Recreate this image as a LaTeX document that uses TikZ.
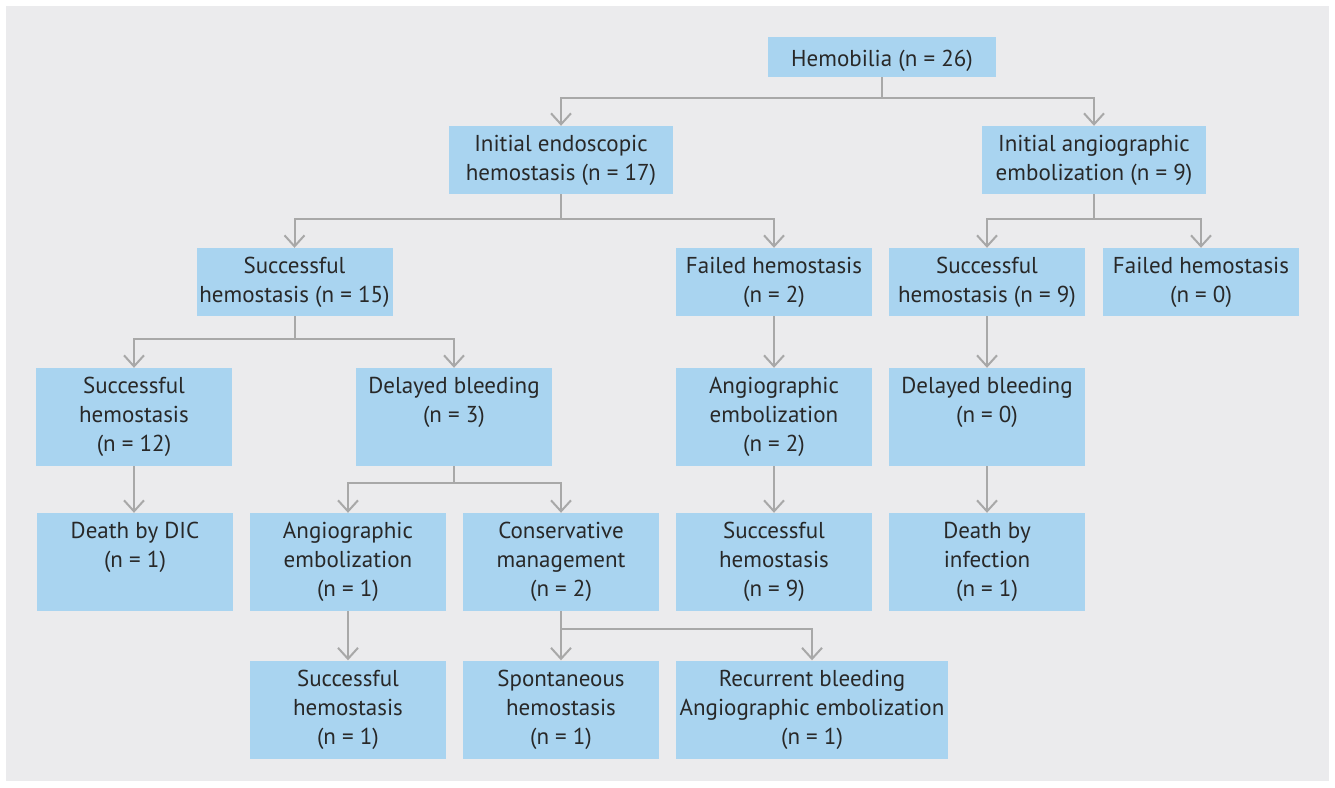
\documentclass[tikz,border=0pt]{standalone}
\usepackage{fontspec}
\setmainfont{PT Sans}
\usetikzlibrary{arrows.meta}
\definecolor{bgc}{RGB}{235,235,237}
\definecolor{boxc}{RGB}{169,212,240}
\definecolor{linec}{RGB}{168,168,168}
\definecolor{txtc}{RGB}{40,40,40}
\tikzset{
  box/.style={fill=boxc, text=txtc, align=center, inner sep=0pt, anchor=center,
    font=\fontsize{23pt}{29pt}\selectfont, minimum width=196pt, minimum height=98pt,
    execute at begin node={\rule{0pt}{24pt}}},
  boxA/.style={box, minimum width=228pt, minimum height=40pt},
  boxB/.style={box, minimum width=224pt, minimum height=68pt},
  boxC/.style={box, minimum height=68pt},
  line/.style={draw=linec, line width=2pt},
  conn/.style={line, -{Straight Barb[length=11pt,width=20pt,line width=2pt]}}
}
\begin{document}
\begin{tikzpicture}[x=1pt,y=-1pt]
\useasboundingbox (0,0) rectangle (1335,787);
\fill[white] (0,0) rectangle (1335,787);
\fill[bgc] (6,6) rectangle (1329,781);
% row 0
\node[boxA] (hemo) at (882,57) {Hemobilia (n = 26)};
% row 1
\node[boxB] (endo) at (561,160) {Initial endoscopic\\hemostasis (n = 17)};
\node[boxB] (angio) at (1094,160) {Initial angiographic\\embolization (n = 9)};
% row 2
\node[boxC] (s15) at (294.5,282) {Successful\\hemostasis (n = 15)};
\node[boxC] (f2) at (774,282) {Failed hemostasis\\(n = 2)};
\node[boxC] (s9) at (987,282) {Successful\\hemostasis (n = 9)};
\node[boxC] (f0) at (1201,282) {Failed hemostasis\\(n = 0)};
% row 3
\node[box] (s12) at (134,417) {Successful\\hemostasis\\(n = 12)};
\node[box] (d3) at (454,417) {Delayed bleeding\\(n = 3)\\\phantom{(n)}};
\node[box] (ae2) at (774,417) {Angiographic\\embolization\\(n = 2)};
\node[box] (d0) at (987,417) {Delayed bleeding\\(n = 0)\\\phantom{(n)}};
% row 4
\node[box] (dic) at (135,562) {Death by DIC\\(n = 1)\\\phantom{(n)}};
\node[box] (ae1) at (348,562) {Angiographic\\embolization\\(n = 1)};
\node[box] (cm) at (561,562) {Conservative\\management\\(n = 2)};
\node[box] (sh9) at (774,562) {Successful\\hemostasis\\(n = 9)};
\node[box] (inf) at (987,562) {Death by\\infection\\(n = 1)};
% row 5
\node[box] (s1) at (348,709.5) {Successful\\hemostasis\\(n = 1)};
\node[box] (sp) at (561,709.5) {Spontaneous\\hemostasis\\(n = 1)};
\node[box, minimum width=272pt] (rb) at (812,709.5) {Recurrent bleeding\\Angiographic embolization\\(n = 1)};
% connectors
\coordinate (b0) at (882,98);
\draw[line] (hemo.south) -- (b0);
\draw[conn] (b0) -| (endo.north);
\draw[conn] (b0) -| (angio.north);
\coordinate (b1) at (561,219);
\draw[line] (endo.south) -- (b1);
\draw[conn] (b1) -| (s15.north);
\draw[conn] (b1) -| (f2.north);
\coordinate (b2) at (1094,219);
\draw[line] (angio.south) -- (b2);
\draw[conn] (b2) -| (s9.north);
\draw[conn] (b2) -| (f0.north);
\coordinate (b3) at (294.5,339);
\draw[line] (s15.south) -- (b3);
\draw[conn] (b3) -| (s12.north);
\draw[conn] (b3) -| (d3.north);
\draw[conn] (f2.south) -- (ae2.north);
\draw[conn] (s9.south) -- (d0.north);
\draw[conn] (s12.south) -- (s12.south |- dic.north);
\coordinate (b4) at (454,483);
\draw[line] (d3.south) -- (b4);
\draw[conn] (b4) -| (ae1.north);
\draw[conn] (b4) -| (cm.north);
\draw[conn] (ae2.south) -- (sh9.north);
\draw[conn] (d0.south) -- (inf.north);
\draw[conn] (ae1.south) -- (s1.north);
\coordinate (b5) at (561,629);
\draw[line] (cm.south) -- (b5);
\draw[conn] (b5) -- (sp.north);
\draw[conn] (b5) -| (rb.north);
\end{tikzpicture}
\end{document}
